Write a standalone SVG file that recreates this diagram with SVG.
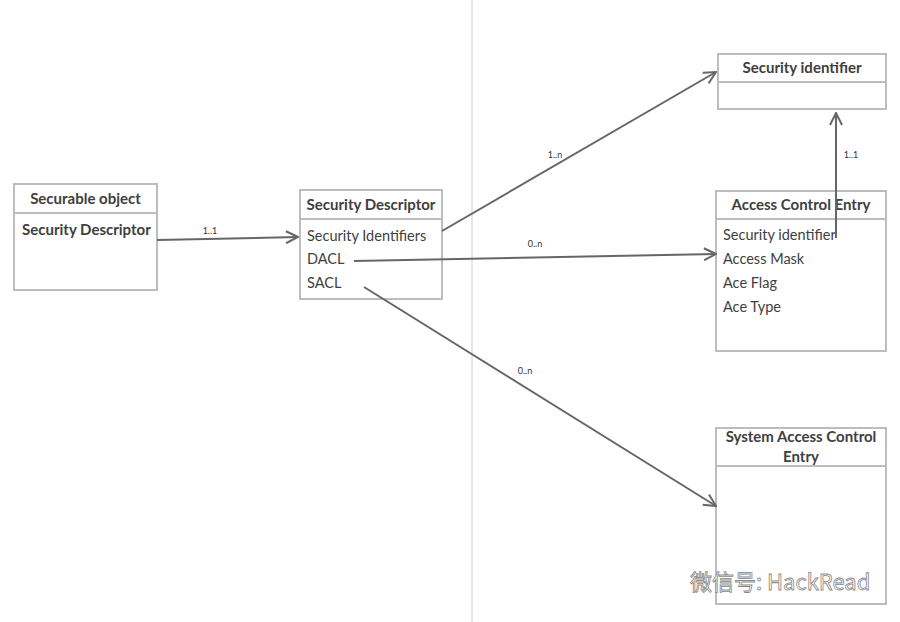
<svg xmlns="http://www.w3.org/2000/svg" width="900" height="622" viewBox="0 0 900 622">
<defs>
<marker id="arr" viewBox="0 0 14 14" refX="13" refY="7" markerWidth="14" markerHeight="14" markerUnits="userSpaceOnUse" orient="auto">
<path d="M1,1 L13,7 L1,13" fill="none" stroke="#666" stroke-width="2"/>
</marker>
<style>
.box{fill:#fff;stroke:#bdbdbd;stroke-width:2}
.div{stroke:#bdbdbd;stroke-width:2}
.t{font-family:Lato,"Noto Sans",sans-serif;font-size:15px;font-weight:bold;fill:#404040;text-anchor:middle}
.r{font-family:Lato,"Noto Sans",sans-serif;font-size:14.5px;fill:#404040}
.rb{font-family:Lato,"Noto Sans",sans-serif;font-size:15px;font-weight:bold;fill:#404040}
.lbl{font-family:Lato,"Noto Sans",sans-serif;font-size:9px;fill:#333;text-anchor:middle}
.c{fill:none;stroke:#666;stroke-width:2;marker-end:url(#arr)}
</style>
</defs>
<rect width="900" height="622" fill="#fff"/>
<line x1="472" y1="0" x2="472" y2="622" stroke="#ccc" stroke-width="1"/>
<g id="securable-object">
<rect class="box" x="14" y="184" width="143" height="106"/>
<line class="div" x1="14" y1="213" x2="157" y2="213"/>
<text class="t" x="85.5" y="204">Securable object</text>
<text class="rb" x="22" y="235">Security Descriptor</text>
</g>
<g id="security-descriptor">
<rect class="box" x="300" y="190" width="142" height="109"/>
<line class="div" x1="300" y1="219" x2="442" y2="219"/>
<text class="t" x="371" y="210">Security Descriptor</text>
<text class="r" x="307" y="241">Security Identifiers</text>
<text class="r" x="307" y="264">DACL</text>
<text class="r" x="307" y="288">SACL</text>
</g>
<g id="security-identifier">
<rect class="box" x="718" y="54" width="168" height="55"/>
<line class="div" x1="718" y1="82" x2="886" y2="82"/>
<text class="t" x="802" y="73">Security identifier</text>
</g>
<g id="access-control-entry">
<rect class="box" x="716" y="191" width="170" height="160"/>
<line class="div" x1="716" y1="219" x2="886" y2="219"/>
<text class="t" x="801" y="210">Access Control Entry</text>
<text class="r" x="723" y="240">Security identifier</text>
<text class="r" x="723" y="264">Access Mask</text>
<text class="r" x="723" y="288">Ace Flag</text>
<text class="r" x="723" y="312">Ace Type</text>
</g>
<g id="system-access-control-entry">
<rect class="box" x="716" y="428" width="170" height="176"/>
<line class="div" x1="716" y1="466" x2="886" y2="466"/>
<text class="t" x="801" y="442">System Access Control</text>
<text class="t" x="801" y="462">Entry</text>
</g>
<g id="connectors">
<path class="c" d="M157,240 L298,237"/>
<path class="c" d="M442,231 L716,72"/>
<path class="c" d="M354,261 L716,254"/>
<path class="c" d="M364,287 L716,506"/>
<path class="c" d="M836,238 L836,113"/>
<text class="lbl" x="210" y="234">1..1</text>
<text class="lbl" x="555" y="158">1..n</text>
<text class="lbl" x="535" y="247">0..n</text>
<text class="lbl" x="525" y="374">0..n</text>
<text class="lbl" x="851" y="158">1..1</text>
</g>
<g id="watermark">
<text x="690" y="590" font-family="'Noto Sans CJK SC',sans-serif" font-size="22" fill="#fff" stroke="#888" stroke-width="0.8">微信号: HackRead</text>
</g>
</svg>
